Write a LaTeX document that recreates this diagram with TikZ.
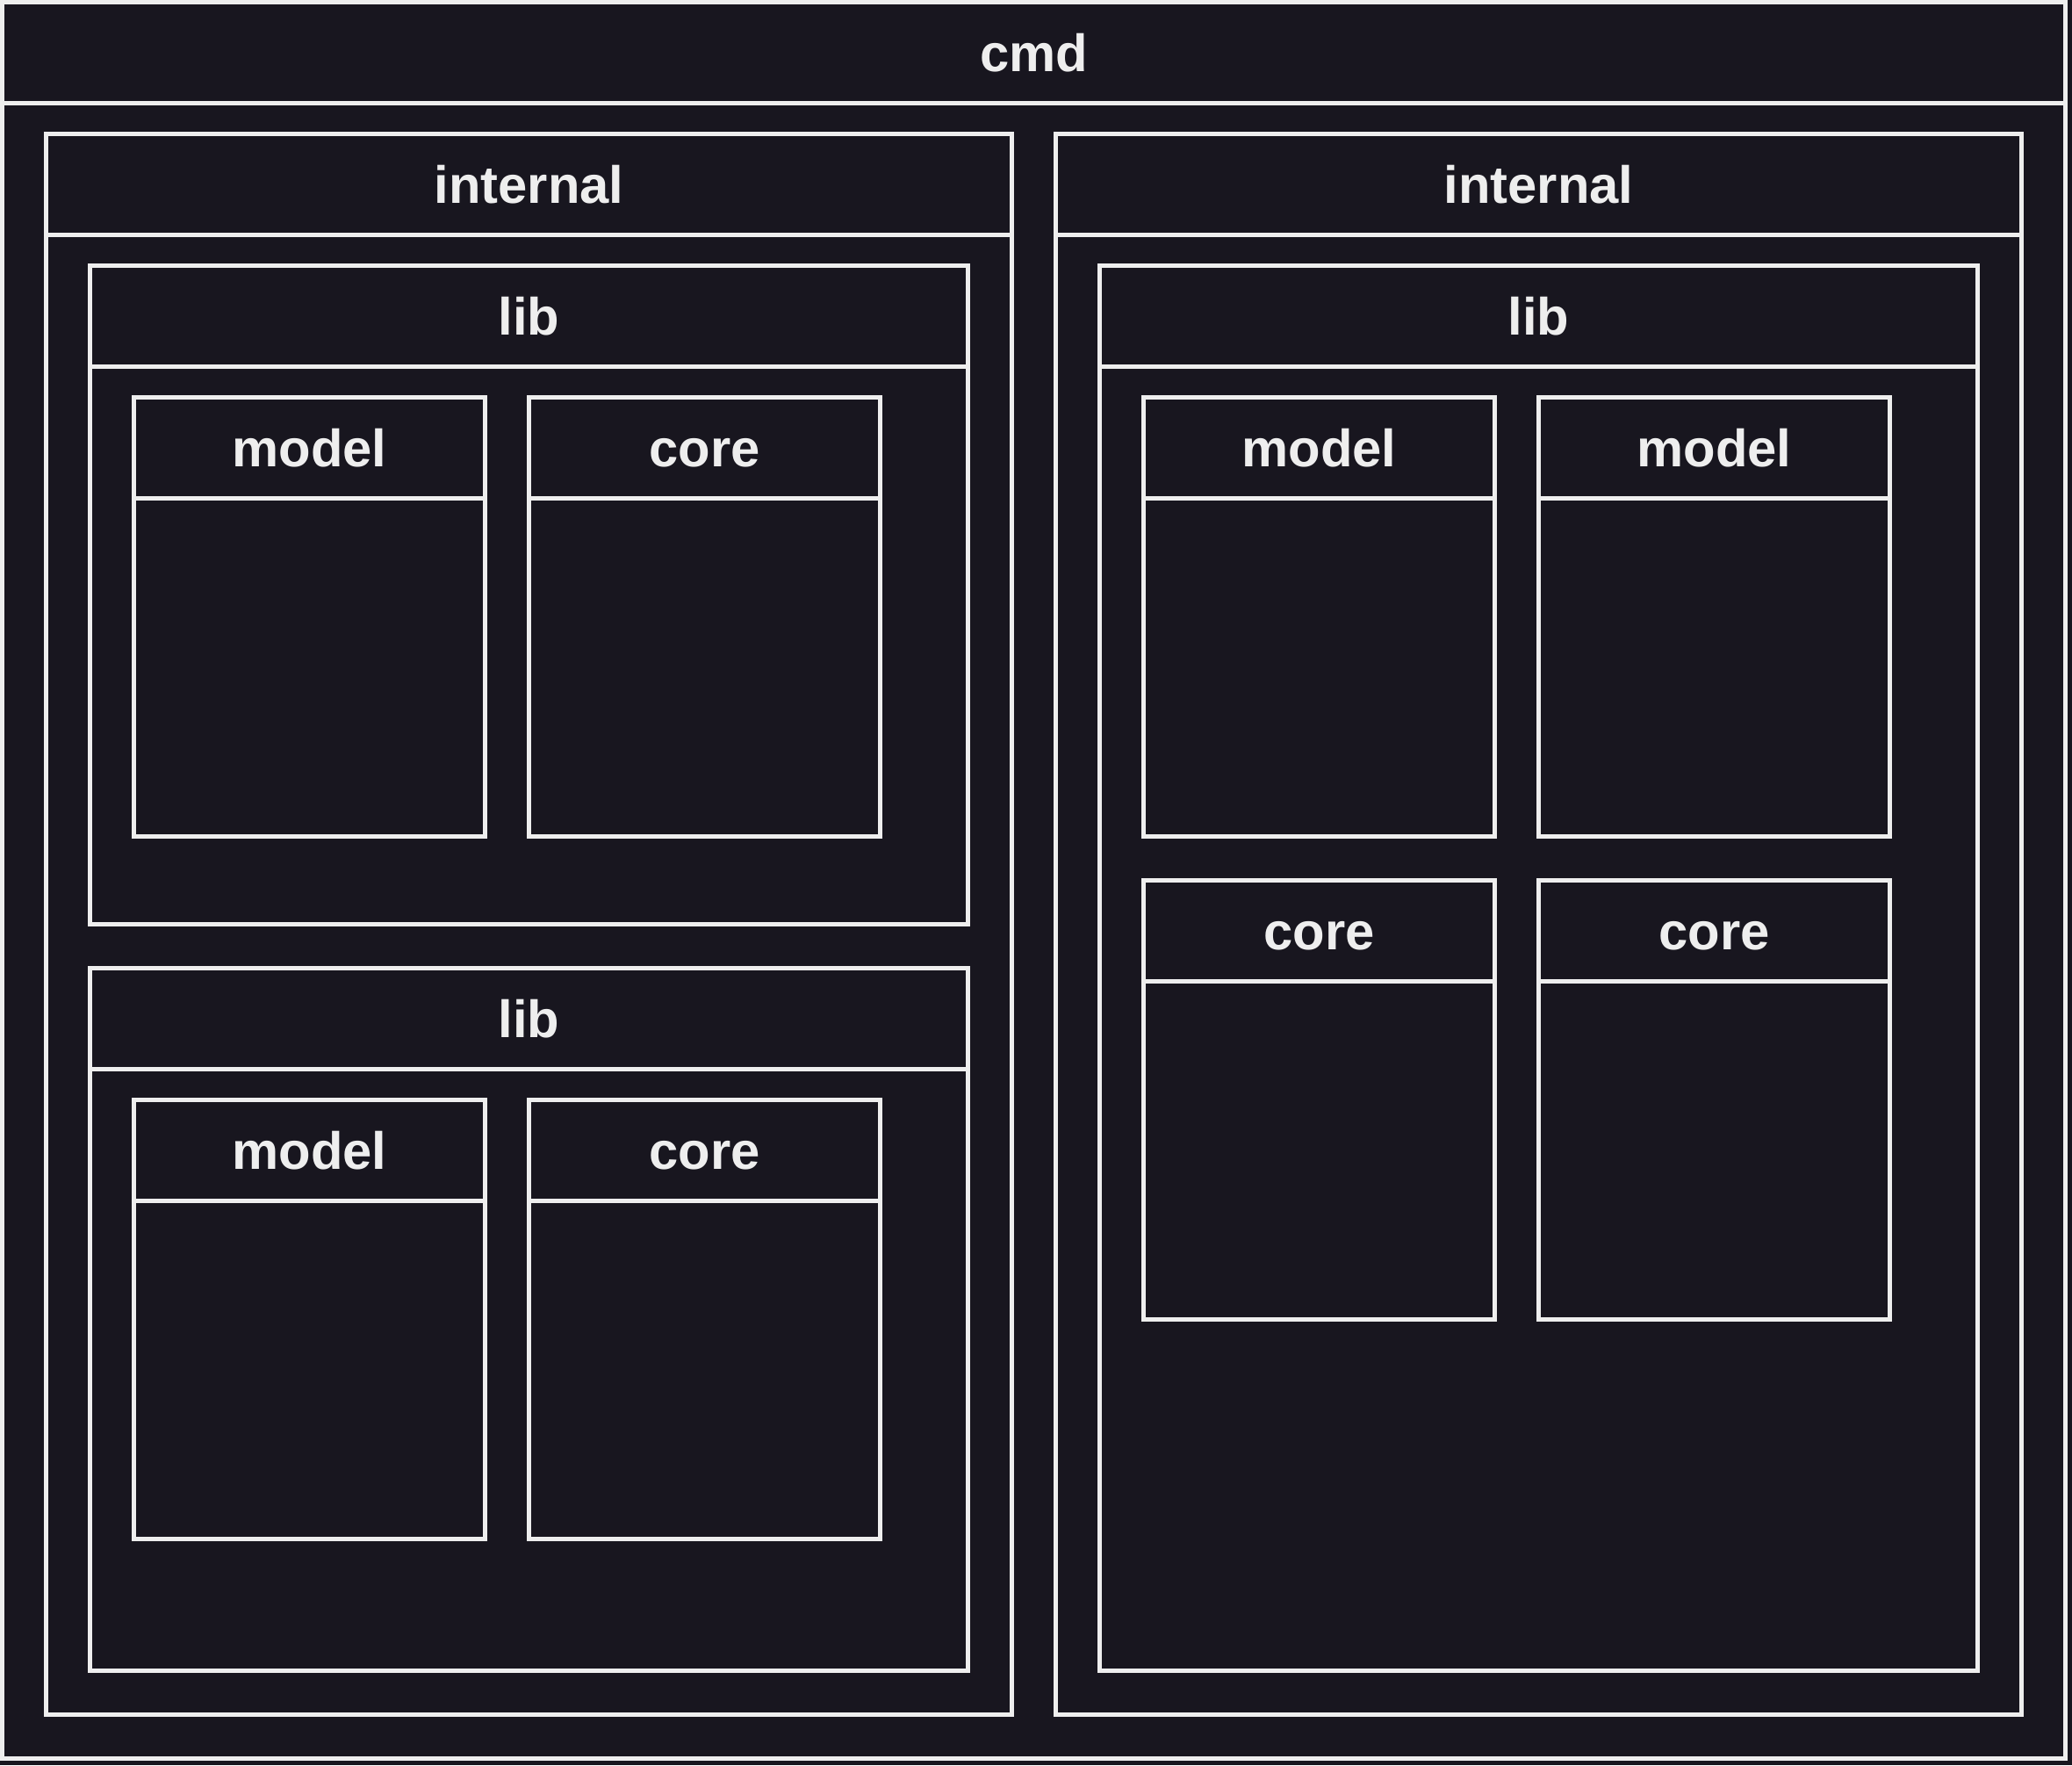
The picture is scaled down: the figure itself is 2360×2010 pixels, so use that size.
\documentclass[tikz,border=0pt]{standalone}
\usepackage{fontspec}
\setmainfont{Liberation Sans}
\usepackage{tikz}
\usetikzlibrary{positioning, calc}
\definecolor{PanelDark}{HTML}{18161F}
\definecolor{LineGray}{HTML}{EEEEEE}
\tikzset{
  % Box styles
  pkgbox/.style={rectangle, draw=LineGray, fill=PanelDark, line width=0.5mm, inner sep=0pt, outer sep=0pt, anchor=north west},
  leafbox/.style={pkgbox, minimum width=40mm, minimum height=50mm},
  % Header styles
  headline/.style={draw=LineGray, line width=0.5mm},
  headtext/.style={text=LineGray, font=\bfseries\fontsize{17}{20}\selectfont, inner sep=0pt, anchor=base}
}

\begin{document}
\begin{tikzpicture}[x=0.1mm, y=-0.1mm]
  \fill[PanelDark] (0,0) rectangle (2360,2010);
  \useasboundingbox (0,0) rectangle (2360,2010);

  % Outer package
  \node[pkgbox, minimum width=235mm, minimum height=200mm] (cmd) at (2.5,2.5) {};

  % Left internal
  \node[pkgbox, minimum width=110mm, minimum height=180mm] (intL) at (52.5,152.5) {};
  \node[pkgbox, minimum width=100mm, minimum height=75mm] (libL1) at (102.5,302.5) {};
  \node[leafbox] (modelL1) at (152.5,452.5) {};
  \node[leafbox, right=5mm of modelL1] (coreL1) {};
  \node[pkgbox, minimum width=100mm, minimum height=80mm, below=5mm of libL1] (libL2) {};
  \node[leafbox] (modelL2) at (152.5,1252.5) {};
  \node[leafbox, right=5mm of modelL2] (coreL2) {};

  % Right internal
  \node[pkgbox, minimum width=110mm, minimum height=180mm, right=5mm of intL] (intR) {};
  \node[pkgbox, minimum width=100mm, minimum height=160mm] (libR) at (1252.5,302.5) {};
  \node[leafbox] (modelR1) at (1302.5,452.5) {};
  \node[leafbox, right=5mm of modelR1] (modelR2) {};
  \node[leafbox, below=5mm of modelR1] (coreR1) {};
  \node[leafbox, below=5mm of modelR2] (coreR2) {};

  % Headers
  \foreach \b/\t in {cmd/cmd, intL/internal, intR/internal, libL1/lib, libL2/lib, libR/lib,
      modelL1/model, coreL1/core, modelL2/model, coreL2/core,
      modelR1/model, modelR2/model, coreR1/core, coreR2/core} {
    \draw[headline] ([yshift=-11.5mm]\b.north west) -- ([yshift=-11.5mm]\b.north east);
    \node[headtext] (\b-t) at ([yshift=-7.85mm]\b.north) {\t};
  }
\end{tikzpicture}
\end{document}
